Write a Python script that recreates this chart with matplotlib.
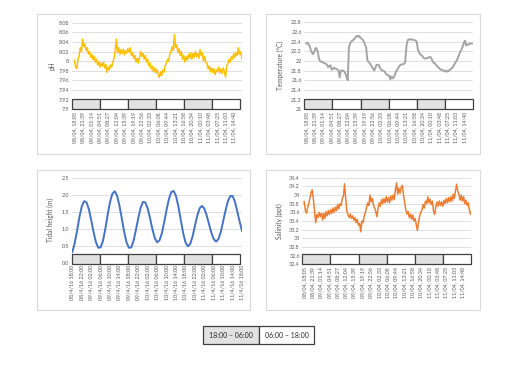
import matplotlib
matplotlib.use("Agg")
import matplotlib.pyplot as plt
from matplotlib.patches import Rectangle

plt.rcParams['font.family'] = ['Lato', 'DejaVu Sans']

# ---------------- data ----------------
# half-hourly readings from 08/04 18:00 (hours since start = index * 0.5)
ph_values = [
    8.002, 7.988, 7.985, 8.004, 8.012, 8.028, 8.020, 8.046, 8.030, 8.036,
    8.022, 8.028, 8.015, 8.020, 8.008, 8.014, 8.003, 8.010, 7.998, 8.004,
    7.992, 7.999, 7.988, 7.996, 7.990, 7.998, 7.986, 7.993, 7.977, 7.988,
    7.982, 7.992, 7.988, 7.998, 8.006, 8.020, 8.046, 8.018, 8.028, 8.014,
    8.024, 8.016, 8.025, 8.013, 8.022, 8.017, 8.026, 8.019, 8.028, 8.012,
    8.018, 8.006, 8.012, 7.998, 8.006, 7.996, 8.008, 8.020, 8.010, 8.016,
    8.004, 8.012, 7.998, 8.004, 7.990, 7.996, 7.984, 7.990, 7.978, 7.986,
    7.976, 7.983, 7.972, 7.966, 7.978, 7.970, 7.982, 7.977, 7.990, 7.996,
    8.004, 8.000, 8.014, 8.020, 8.030, 8.022, 8.056, 8.028, 8.034, 8.018,
    8.026, 8.012, 8.020, 8.004, 8.012, 7.998, 8.010, 8.002, 8.014, 8.006,
    8.018, 8.004, 8.016, 8.008, 8.020, 8.010, 8.016, 8.006, 8.024, 8.012,
    8.018, 8.000, 8.010, 7.998, 7.996, 7.984, 7.990, 7.978, 7.986, 7.976,
    7.984, 7.972, 7.982, 7.978, 7.988, 7.976, 7.984, 7.974, 7.986, 7.978,
    7.967, 7.990, 7.996, 8.004, 7.998, 8.010, 8.004, 8.016, 8.008, 8.018,
    8.012, 8.028, 8.014, 8.020, 8.006,
]

temp_values = [
    22.36, 22.38, 22.34, 22.30, 22.22, 22.16, 22.14, 22.20, 22.27, 22.25,
    22.18, 22.04, 22.00, 21.98, 21.98, 21.96, 21.95, 21.94, 21.92, 21.87,
    21.90, 21.91, 21.82, 21.84, 21.86, 21.84, 21.84, 21.82, 21.80, 21.66,
    21.80, 21.80, 21.80, 21.78, 21.74, 21.66, 21.60, 22.28, 22.36, 22.40,
    22.42, 22.44, 22.46, 22.50, 22.52, 22.50, 22.52, 22.48, 22.46, 22.44,
    22.40, 22.34, 22.28, 22.02, 21.98, 21.96, 21.92, 21.88, 21.84, 21.80,
    21.86, 21.92, 21.92, 21.92, 21.86, 21.82, 21.80, 21.80, 21.78, 21.74,
    21.72, 21.70, 21.70, 21.62, 21.68, 21.64, 21.66, 21.72, 21.78, 21.82,
    21.86, 21.90, 21.92, 21.93, 21.93, 21.94, 21.98, 22.30, 22.42, 22.45,
    22.44, 22.45, 22.44, 22.44, 22.43, 22.42, 22.40, 22.24, 22.18, 22.14,
    22.12, 22.10, 22.06, 22.05, 22.05, 22.06, 22.07, 22.08, 22.08, 22.04,
    21.98, 21.96, 21.94, 21.92, 21.88, 21.86, 21.84, 21.82, 21.82, 21.80,
    21.80, 21.78, 21.80, 21.78, 21.80, 21.82, 21.84, 21.86, 21.90, 21.94,
    21.98, 22.02, 22.08, 22.14, 22.20, 22.24, 22.30, 22.38, 22.42, 22.32,
    22.34, 22.34, 22.36, 22.36, 22.36,
]

salinity_values = [
    33.85, 33.65, 33.58, 33.72, 33.80, 33.92, 34.05, 34.12, 33.90, 33.62,
    33.36, 33.55, 33.48, 33.60, 33.50, 33.58, 33.42, 33.58, 33.46, 33.62,
    33.52, 33.64, 33.55, 33.66, 33.58, 33.70, 33.60, 33.72, 33.64, 33.78,
    33.68, 33.80, 33.76, 33.92, 33.98, 34.26, 33.90, 33.62, 33.55, 33.48,
    33.56, 33.46, 33.52, 33.42, 33.48, 33.36, 33.44, 33.30, 33.34, 33.15,
    33.40, 33.36, 33.52, 33.60, 33.72, 33.82, 33.76, 34.00, 33.84, 33.92,
    33.76, 33.70, 33.62, 33.50, 33.70, 33.82, 33.74, 33.90, 33.80, 33.92,
    33.82, 33.96, 33.84, 33.94, 33.82, 33.98, 33.88, 34.00, 33.90, 34.12,
    34.28, 34.02, 34.16, 34.04, 34.18, 34.22, 34.00, 33.82, 33.66, 33.56,
    33.62, 33.48, 33.56, 33.44, 33.54, 33.40, 33.46, 33.32, 33.18, 33.38,
    33.52, 33.60, 33.66, 33.78, 33.70, 33.86, 33.80, 33.96, 33.82, 33.90,
    33.78, 33.86, 33.62, 33.55, 33.74, 33.84, 33.74, 33.86, 33.76, 33.84,
    33.74, 33.88, 33.80, 33.92, 33.82, 33.94, 33.84, 33.96, 33.86, 34.02,
    33.92, 34.10, 34.25, 34.08, 34.02, 33.88, 34.00, 33.86, 33.96, 33.80,
    33.88, 33.76, 33.82, 33.66, 33.56,
]

# hourly tidal height from 08/4/16 18:00
tide_values = [
    0.31, 0.57, 0.93, 1.33, 1.65, 1.81, 1.78, 1.58, 1.26, 0.91,
    0.61, 0.44, 0.45, 0.64, 0.99, 1.41, 1.78, 2.03, 2.10, 1.97,
    1.68, 1.30, 0.91, 0.60, 0.44, 0.45, 0.65, 0.97, 1.32, 1.62,
    1.79, 1.77, 1.59, 1.30, 0.98, 0.72, 0.60, 0.66, 0.87, 1.20,
    1.56, 1.88, 2.08, 2.11, 1.96, 1.65, 1.26, 0.88, 0.60, 0.48,
    0.55, 0.77, 1.08, 1.38, 1.60, 1.67, 1.59, 1.39, 1.13, 0.88,
    0.69, 0.62, 0.70, 0.91, 1.22, 1.54, 1.81, 1.96, 1.96, 1.79,
    1.50, 1.20, 0.93,
]

time_labels = [
    "08/04, 18:05", "08/04, 21:39", "09/04, 01:14", "09/04, 04:51",
    "09/04, 08:27", "09/04, 12:04", "09/04, 15:39", "09/04, 19:19",
    "09/04, 22:56", "10/04, 02:33", "10/04, 06:08", "10/04, 09:44",
    "10/04, 13:21", "10/04, 16:58", "10/04, 20:34", "11/04, 00:10",
    "11/04, 03:48", "11/04, 07:25", "11/04, 11:03", "11/04, 14:40",
]

tide_labels = [
    "08/4/16 18:00", "08/4/16 22:00", "09/4/16 02:00", "09/4/16 06:00",
    "09/4/16 10:00", "09/4/16 14:00", "09/4/16 18:00", "09/4/16 22:00",
    "10/4/16 02:00", "10/4/16 06:00", "10/4/16 10:00", "10/4/16 14:00",
    "10/4/16 18:00", "10/4/16 22:00", "11/4/16 02:00", "11/4/16 06:00",
    "11/4/16 10:00", "11/4/16 14:00", "11/4/16 18:00",
]

ph_ticks = ["7.9", "7.92", "7.94", "7.96", "7.98", "8", "8.02", "8.04", "8.06", "8.08"]
temp_ticks = ["21", "21.2", "21.4", "21.6", "21.8", "22", "22.2", "22.4", "22.6", "22.8"]
tide_ticks = ["0.0", "0.5", "1.0", "1.5", "2.0", "2.5"]
sal_ticks = ["32.4", "32.6", "32.8", "33", "33.2", "33.4", "33.6", "33.8", "34", "34.2", "34.4"]

legend_labels = ["18:00 \u2013 06:00", "06:00 \u2013 18:00"]


def label_hours(lbl):
    # "DD/MM, HH:MM" or "DD/M/YY HH:MM" -> hours since 08/04 18:00
    day = int(lbl[:2])
    hh, mm = lbl[-5:].split(":")
    return (day - 8) * 24 + int(hh) + int(mm) / 60 - 18


# ---------------- figure ----------------
W, H = 527, 367
fig = plt.figure(figsize=(W / 100, H / 100), dpi=100)


def fx(px):
    return px / W


def fy(py):
    return 1 - py / H


for (x0, y0, x1, y1) in [(37, 14.3, 250, 153.5), (266, 14.3, 480, 153.5),
                         (37, 170, 250, 309.5), (266, 170, 480, 309.5)]:
    fig.add_artist(Rectangle((fx(x0), fy(y1)), fx(x1) - fx(x0), fy(y0) - fy(y1),
                             transform=fig.transFigure, fill=False,
                             edgecolor='#d9d9d9', lw=0.8))

TICK_COLOR = '#595959'


def panel(rect, x, y, color, lw, ticklabels, xticks, xlabels, xlim,
          ylabel, ylabel_x, bar_y, bar_w):
    l, t, r, b = rect
    ax = fig.add_axes([fx(l), fy(b), fx(r) - fx(l), fy(t) - fy(b)])
    yt = [float(s) for s in ticklabels]
    ax.set_xlim(xlim)
    ax.set_ylim(yt[0], yt[-1])
    ax.set_yticks(yt)
    ax.set_yticklabels(ticklabels)
    ax.grid(axis='y', color='#d9d9d9', lw=0.6)
    ax.set_axisbelow(True)
    for s in ax.spines.values():
        s.set_visible(False)
    ax.tick_params(length=0, labelsize=3.9, labelcolor=TICK_COLOR, pad=1.8)
    ax.set_xticks(xticks)
    ax.set_xticklabels(xlabels, rotation=90)
    ax.plot(x, y, color=color, lw=lw, zorder=3, solid_joinstyle='round')
    y0, y1 = bar_y
    for i in range(6):
        ax.add_patch(Rectangle((i * bar_w / 6, y0), bar_w / 6, y1 - y0,
                               transform=ax.transAxes,
                               facecolor='#e2e2e2' if i % 2 == 0 else 'white',
                               edgecolor='#404040', lw=0.9, clip_on=False, zorder=4))
    fig.text(fx(ylabel_x), (fy(t) + fy(b)) / 2, ylabel, rotation=90,
             ha='center', va='center', fontsize=4.7, color=TICK_COLOR)
    return ax


half_hours = [i * 0.5 for i in range(len(ph_values))]
hours = list(range(len(tide_values)))
tpos = [label_hours(s) for s in time_labels]
tide_pos = [label_hours(s) for s in tide_labels]

panel((71.7, 22.7, 242.3, 109.3), half_hours, ph_values, '#FFC000', 1.1,
      ph_ticks, tpos, time_labels, (-1.2, 72.2), 'pH', 51.5,
      (0, 0.115), 0.987)
panel((304.3, 22.3, 473.3, 109.3), half_hours, temp_values, '#A5A5A5', 1.4,
      temp_ticks, tpos, time_labels, (-0.9, 72.6), 'Temperature (\u00b0C)', 280.5,
      (0, 0.115), 1.0)
panel((71.7, 177.7, 242.3, 262.7), hours, tide_values, '#4472C4', 1.4,
      tide_ticks, tide_pos, tide_labels, (-0.25, 72.1), 'Tidal height (m)', 50.5,
      (-0.019, 0.099), 0.987)
panel((302.3, 177.7, 471.0, 264.3), half_hours, salinity_values, '#ED7D31', 1.1,
      sal_ticks, tpos, time_labels, (-0.8, 72.2), 'Salinity (ppt)', 279.5,
      (0, 0.115), 1.0)

# legend
lx0, lmid, lx1, ly0, ly1 = 203.3, 259.0, 314.0, 325.7, 344.3
for (a, b_, fc, txt) in [(lx0, lmid, '#e2e2e2', legend_labels[0]),
                         (lmid, lx1, 'white', legend_labels[1])]:
    fig.add_artist(Rectangle((fx(a), fy(ly1)), fx(b_) - fx(a), fy(ly0) - fy(ly1),
                             transform=fig.transFigure, facecolor=fc,
                             edgecolor='#404040', lw=0.9))
    fig.text((fx(a) + fx(b_)) / 2, (fy(ly0) + fy(ly1)) / 2, txt,
             ha='center', va='center', fontsize=5.0, color='#262626')

fig.savefig('out.png', dpi=100, facecolor='white')
